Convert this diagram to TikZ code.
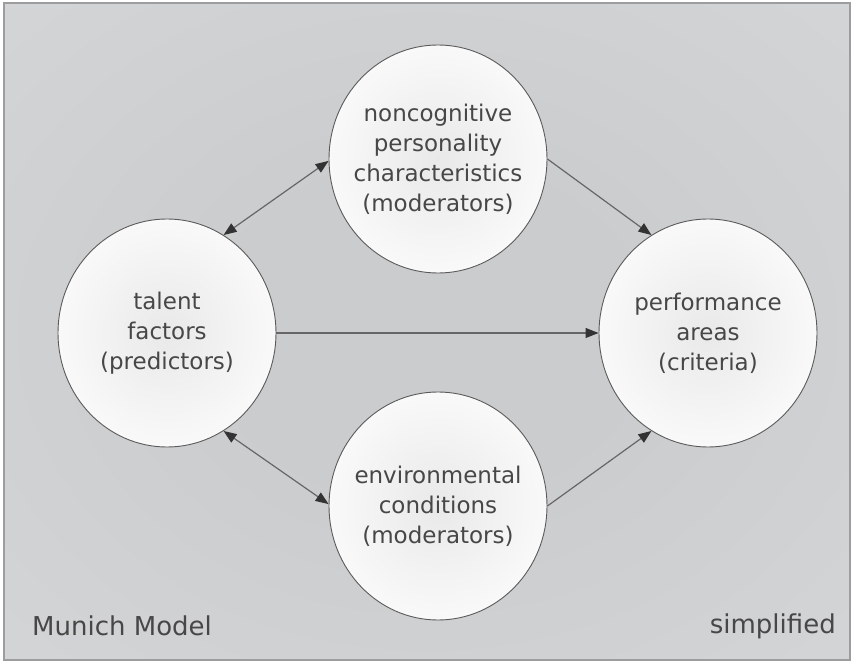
\documentclass[tikz,border=0pt]{standalone}
\usepackage{fontspec}
\setmainfont{DejaVu Sans}
\usepackage{xcolor}
\usetikzlibrary{shapes, arrows.meta, positioning}
\definecolor{bginner}{HTML}{CBCCCE}
\definecolor{bgouter}{HTML}{E1E2E3}
\definecolor{frameline}{HTML}{9C9D9E}
\definecolor{ballinner}{HTML}{E9E9EA}
\definecolor{ballouter}{HTML}{F9F9F9}
\definecolor{ballline}{HTML}{5A5A5A}
\definecolor{inktext}{HTML}{474747}
\definecolor{arrowline}{HTML}{666666}
\definecolor{arrowtip}{HTML}{333333}
\pgfdeclareradialshading{bgglow}{\pgfpoint{0bp}{0bp}}{color(0bp)=(bginner); color(12bp)=(bginner); color(72bp)=(bgouter); color(80bp)=(bgouter)}

\begin{document}
\begin{tikzpicture}[x=1pt, y=-1pt,
            ball/.style={draw=ballline, line width=0.9pt, ellipse, minimum width=218pt, minimum height=228pt, inner sep=0pt, inner color=ballinner, outer color=ballouter},
            balltext/.style={text=inktext, font=\fontsize{23}{30}\selectfont, align=center},
            corner/.style={text=inktext, font=\fontsize{26}{30}\selectfont, inner sep=0pt},
            link/.style={draw=arrowline, line width=1.2pt, -{Triangle[length=13pt, width=10pt, color=arrowtip]}},
            biglink/.style={draw=arrowline, line width=1.2pt, {Triangle[length=13pt, width=10pt, color=arrowtip]}-{Triangle[length=13pt, width=10pt, color=arrowtip]}}]
            \useasboundingbox (0,0) rectangle (852,663);
            \shade[shading=bgglow] (4,3) rectangle (850,660);
            \draw[frameline, line width=1.6pt] (4,3) rectangle (850,660);

            \node[ball, label={[balltext]center:talent\\factors\\(predictors)}] (talent) at (167,333) {};
            \node[ball, label={[balltext]center:noncognitive\\personality\\characteristics\\(moderators)}] (noncog) at (438,159) {};
            \node[ball, label={[balltext]center:environmental\\conditions\\(moderators)}] (envcond) at (438,506) {};
            \node[ball, label={[balltext]center:performance\\areas\\(criteria)}] (perf) at (708,333) {};

            \node[corner, anchor=base west] (munich) at (32,635) {Munich Model};
            \node[corner, anchor=base east] (simple) at (836,633) {simplified};

            \draw[biglink] (talent.60) -- (noncog.181);
            \draw[biglink] (talent.-60) -- (envcond.179);
            \draw[link] (talent) -- (perf);
            \draw[link] (noncog.0) -- (perf.120);
            \draw[link] (envcond.0) -- (perf.240);
        \end{tikzpicture}
\end{document}
